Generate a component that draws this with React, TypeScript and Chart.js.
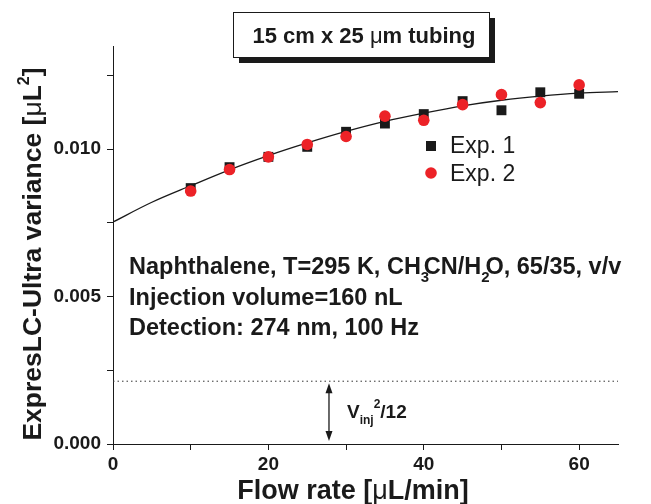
import React, { useEffect, useRef } from 'react';
import { Chart, registerables } from 'chart.js';

Chart.register(...registerables);

// Measured peak variance of naphthalene vs. flow rate
const flowRates = [10, 15, 20, 25, 30, 35, 40, 45, 50, 55, 60];
const exp1Variance = [0.00868, 0.00939, 0.00974, 0.01008, 0.01059, 0.01087, 0.01119, 0.01163, 0.01132, 0.01193, 0.01188];
const exp2Variance = [0.00858, 0.00931, 0.00974, 0.01016, 0.01043, 0.01112, 0.01098, 0.01151, 0.01185, 0.01158, 0.01218];

// Fitted trend curve
const fitFlow = [0, 5, 10, 15, 20, 25, 30, 35, 40, 45, 50, 55, 60, 65];
const fitVariance = [0.00753, 0.0082, 0.00876, 0.0093, 0.00978, 0.01021, 0.0106, 0.01094, 0.01122, 0.01147, 0.01166, 0.0118, 0.0119, 0.01195];

// Injection contribution Vinj^2/12 (160 nL)
const injectionVariance = 0.00213;
const injectionSpan = [0, 65];
const arrowFlow = 27.8;

const xMin = 0;
const xMax = 65;
const yMin = 0;
const yMax = 0.0135;

const FONT = "'Liberation Sans', Arial, Helvetica, sans-serif";

type Seg = { text: string; size?: number; weight?: string; dy?: number; advance?: number };

function segFont(seg: Seg, size: number, weight: string) {
  return `${seg.weight ?? weight} ${seg.size ?? size}px ${FONT}`;
}

function richWidth(ctx: CanvasRenderingContext2D, segs: Seg[], size: number, weight: string) {
  let w = 0;
  for (const s of segs) {
    ctx.font = segFont(s, size, weight);
    w += ctx.measureText(s.text).width * (s.advance ?? 1);
  }
  return w;
}

function drawRich(
  ctx: CanvasRenderingContext2D,
  segs: Seg[],
  x: number,
  y: number,
  size: number,
  weight: string,
  align: 'left' | 'center' = 'left'
) {
  let cx = align === 'center' ? x - richWidth(ctx, segs, size, weight) / 2 : x;
  ctx.textAlign = 'left';
  ctx.textBaseline = 'alphabetic';
  for (const s of segs) {
    ctx.font = segFont(s, size, weight);
    ctx.fillText(s.text, cx, y + (s.dy ?? 0));
    cx += ctx.measureText(s.text).width * (s.advance ?? 1);
  }
}

const annotationsPlugin = {
  id: 'variancePlotAnnotations',
  afterDatasetsDraw(chart: any) {
    const ctx: CanvasRenderingContext2D = chart.ctx;
    const xs = chart.scales.x;
    const ys = chart.scales.y;
    ctx.save();
    ctx.fillStyle = '#1a1a1a';
    ctx.strokeStyle = '#1a1a1a';

    // Boxed heading with drop shadow
    const bx = 233, by = 12, bw = 256, bh = 45;
    ctx.fillRect(bx + 6, by + 6, bw, bh);
    ctx.fillStyle = '#ffffff';
    ctx.fillRect(bx, by, bw, bh);
    ctx.lineWidth = 1;
    ctx.strokeRect(bx + 0.5, by + 0.5, bw, bh);
    ctx.fillStyle = '#1a1a1a';
    drawRich(
      ctx,
      [
        { text: '15 cm x 25' },
        { text: ' μ', weight: 'normal' },
        { text: 'm tubing' },
      ],
      bx + bw / 2 + 3,
      by + 31,
      22,
      'bold',
      'center'
    );

    // Legend
    const lx = 431;
    ctx.fillStyle = '#1a1a1a';
    ctx.fillRect(lx - 5, 146 - 5, 10, 10);
    ctx.fillStyle = '#ec2227';
    ctx.beginPath();
    ctx.arc(lx, 173, 5.8, 0, Math.PI * 2);
    ctx.fill();
    ctx.fillStyle = '#1a1a1a';
    ctx.font = `normal 23px ${FONT}`;
    ctx.textAlign = 'left';
    ctx.textBaseline = 'middle';
    ctx.fillText('Exp. 1', 450, 147);
    ctx.fillText('Exp. 2', 450, 175);

    // Experimental conditions
    const tx = 129;
    drawRich(
      ctx,
      [
        { text: 'Naphthalene, T=295 K, CH' },
        { text: '3', size: 15, dy: 8, advance: 0.35 },
        { text: 'CN/H' },
        { text: '2', size: 15, dy: 8, advance: 0.5 },
        { text: 'O, 65/35, v/v' },
      ],
      tx,
      274,
      23.5,
      'bold'
    );
    drawRich(ctx, [{ text: 'Injection volume=160 nL' }], tx, 305, 23.5, 'bold');
    drawRich(ctx, [{ text: 'Detection: 274 nm, 100 Hz' }], tx, 335, 23.5, 'bold');

    // Double-headed arrow marking Vinj^2/12
    const ax = xs.getPixelForValue(arrowFlow);
    const aTop = ys.getPixelForValue(injectionVariance) + 2;
    const aBot = ys.getPixelForValue(0) - 3;
    ctx.lineWidth = 1.3;
    ctx.beginPath();
    ctx.moveTo(ax, aTop + 4);
    ctx.lineTo(ax, aBot - 4);
    ctx.stroke();
    ctx.beginPath();
    ctx.moveTo(ax, aTop);
    ctx.lineTo(ax - 3.5, aTop + 10);
    ctx.lineTo(ax + 3.5, aTop + 10);
    ctx.closePath();
    ctx.fill();
    ctx.beginPath();
    ctx.moveTo(ax, aBot);
    ctx.lineTo(ax - 3.5, aBot - 10);
    ctx.lineTo(ax + 3.5, aBot - 10);
    ctx.closePath();
    ctx.fill();

    drawRich(
      ctx,
      [
        { text: 'V' },
        { text: 'inj', size: 12, dy: 6 },
        { text: '2', size: 12, dy: -10 },
        { text: '/12' },
      ],
      ax + 18,
      418,
      19,
      'bold'
    );

    // Axis titles
    drawRich(
      ctx,
      [
        { text: 'Flow rate [' },
        { text: 'μ', weight: 'normal' },
        { text: 'L/min]' },
      ],
      353,
      499,
      27,
      'bold',
      'center'
    );

    ctx.save();
    ctx.translate(41, 254);
    ctx.rotate(-Math.PI / 2);
    drawRich(
      ctx,
      [
        { text: 'ExpresLC-Ultra variance [' },
        { text: 'μ', weight: 'normal' },
        { text: 'L' },
        { text: '2', size: 16, dy: -12 },
        { text: ']' },
      ],
      0,
      0,
      26.5,
      'bold',
      'center'
    );
    ctx.restore();

    ctx.restore();
  },
};

export default function App() {
  const canvasRef = useRef<HTMLCanvasElement | null>(null);

  useEffect(() => {
    document.body.style.margin = '0';
    const canvas = canvasRef.current;
    if (!canvas) return;

    const tickFont = { family: FONT, size: 19, weight: 'bold' as const };

    const chart = new Chart(canvas, {
      type: 'scatter',
      data: {
        datasets: [
          {
            label: 'Exp. 2',
            data: flowRates.map((x, i) => ({ x, y: exp2Variance[i] })),
            pointStyle: 'circle',
            pointRadius: 5.8,
            pointBackgroundColor: '#ec2227',
            pointBorderWidth: 0,
            showLine: false,
            order: 0,
          },
          {
            label: 'Exp. 1',
            data: flowRates.map((x, i) => ({ x, y: exp1Variance[i] })),
            pointStyle: 'rect',
            pointRadius: 7,
            pointBackgroundColor: '#1a1a1a',
            pointBorderWidth: 0,
            showLine: false,
            order: 1,
          },
          {
            label: 'Fit',
            data: fitFlow.map((x, i) => ({ x, y: fitVariance[i] })),
            showLine: true,
            borderColor: '#1a1a1a',
            borderWidth: 1.3,
            pointRadius: 0,
            cubicInterpolationMode: 'monotone',
            order: 2,
          },
          {
            label: 'Vinj²/12',
            data: injectionSpan.map((x) => ({ x, y: injectionVariance })),
            showLine: true,
            borderColor: '#333333',
            borderWidth: 1,
            borderDash: [1.5, 3],
            pointRadius: 0,
            order: 3,
          },
        ],
      },
      options: {
        animation: false,
        responsive: false,
        maintainAspectRatio: false,
        layout: { padding: { top: 46, right: 33, left: 0, bottom: 0 } },
        plugins: {
          legend: { display: false },
          tooltip: { enabled: false },
          title: { display: false },
        },
        scales: {
          x: {
            type: 'linear',
            min: xMin,
            max: xMax,
            afterFit: (scale: any) => {
              scale.height = 60;
            },
            border: { display: true, color: '#1a1a1a', width: 1 },
            grid: {
              display: true,
              drawOnChartArea: false,
              drawTicks: true,
              tickLength: 6,
              tickColor: '#1a1a1a',
              tickWidth: 1,
            },
            ticks: {
              stepSize: 10,
              includeBounds: false,
              autoSkip: false,
              maxRotation: 0,
              padding: 3,
              color: '#1a1a1a',
              font: tickFont,
              callback: (v: any) => (Math.round(v) % 20 === 0 ? String(Math.round(v)) : ''),
            },
          },
          y: {
            type: 'linear',
            min: yMin,
            max: yMax,
            afterFit: (scale: any) => {
              scale.width = 113;
            },
            border: { display: true, color: '#1a1a1a', width: 1 },
            grid: {
              display: true,
              drawOnChartArea: false,
              drawTicks: true,
              tickLength: 6,
              tickColor: '#1a1a1a',
              tickWidth: 1,
            },
            ticks: {
              stepSize: 0.0025,
              includeBounds: false,
              autoSkip: false,
              padding: 6,
              color: '#1a1a1a',
              font: tickFont,
              callback: (v: any) => {
                const k = Math.round(Number(v) / 0.0025);
                return k % 2 === 0 ? (k * 0.0025).toFixed(3) : '';
              },
            },
          },
        },
      },
      plugins: [annotationsPlugin],
    });

    return () => chart.destroy();
  }, []);

  return (
    <div style={{ position: 'absolute', left: 0, top: 0, width: 651, height: 504, background: '#ffffff' }}>
      <canvas ref={canvasRef} width={651} height={504} style={{ display: 'block' }} />
    </div>
  );
}
